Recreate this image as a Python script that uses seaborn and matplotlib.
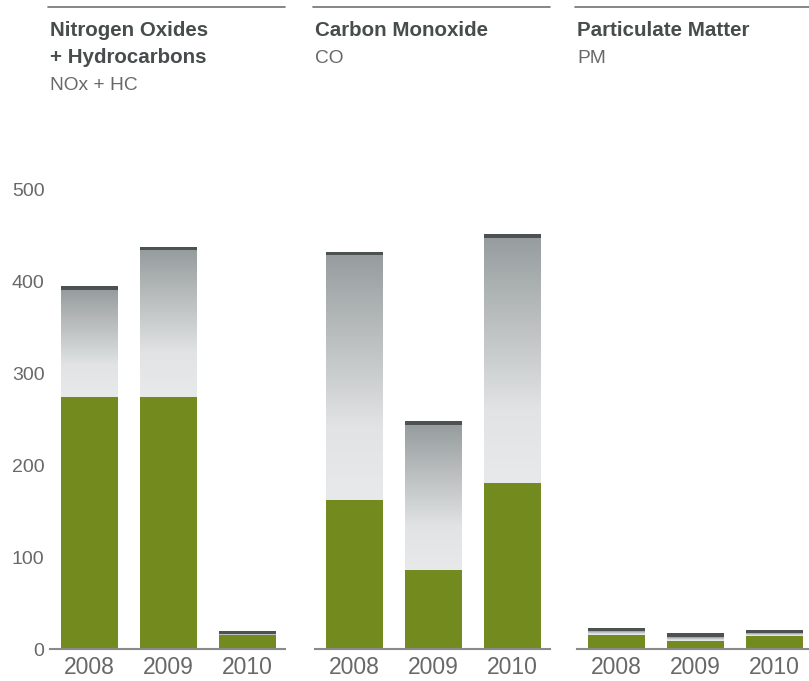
import matplotlib.pyplot as plt
import numpy as np
import pandas as pd
import seaborn as sns
from matplotlib.colors import LinearSegmentedColormap
from matplotlib.lines import Line2D

sns.set_theme(style="white")
plt.rcParams["font.family"] = ["Liberation Sans", "DejaVu Sans"]

# Data
years = ["2008", "2009", "2010"]
titles = ["Nitrogen Oxides\n+ Hydrocarbons", "Carbon Monoxide", "Particulate Matter"]
subtitles = ["NOx + HC", "CO", "PM"]
nox_actual = [274, 274, 15]
nox_limit = [395, 438, 20]
co_actual = [162, 86, 181]
co_limit = [433, 248, 452]
pm_actual = [15, 9, 14]
pm_limit = [23, 17, 21]
y_ticks = [0, 100, 200, 300, 400, 500]

actuals = [nox_actual, co_actual, pm_actual]
limits = [nox_limit, co_limit, pm_limit]

GREEN = "#738a1f"
CAP = "#4b5251"
TEXT = "#474c4c"
LIGHT_TEXT = "#686868"
CAP_H = 4.6
grad = LinearSegmentedColormap.from_list(
    "grey_grad", [(0, "#e8e9ea"), (0.3, "#e1e3e4"), (1, "#979d9e")]
)

W, H = 809, 681
fig = plt.figure(figsize=(W / 100, H / 100), dpi=100)

panel_left = [50, 315, 577]
panel_width = 235
bottom_px, top_px = 649, 190

for i in range(3):
    df = pd.DataFrame({
        "year": years,
        "actual": actuals[i],
        "limit": limits[i],
    })
    df["body"] = df["limit"] - CAP_H

    ax = fig.add_axes([
        panel_left[i] / W,
        1 - bottom_px / H,
        panel_width / W,
        (bottom_px - top_px) / H,
    ])

    # dark cap = full limit, gradient body below it, green actual value on top
    sns.barplot(data=df, x="year", y="limit", color=CAP, saturation=1,
                width=0.72, linewidth=0, ax=ax, zorder=2)
    n_cap = len(ax.patches)
    sns.barplot(data=df, x="year", y="body", color="#c8cbcc", saturation=1,
                width=0.72, linewidth=0, ax=ax, zorder=3)
    body_patches = ax.patches[n_cap:]
    gvals = np.linspace(0, 1, 256).reshape(-1, 1)
    for p, lo in zip(body_patches, df["actual"]):
        x0 = p.get_x()
        x1 = x0 + p.get_width()
        top = p.get_height()
        if top > lo:
            ax.imshow(gvals, cmap=grad, origin="lower", aspect="auto",
                      extent=[x0, x1, lo, top], zorder=4)
    sns.barplot(data=df, x="year", y="actual", color=GREEN, saturation=1,
                width=0.72, linewidth=0, ax=ax, zorder=6)

    ax.set_xlim(-0.5, 2.47)
    ax.set_ylim(0, 500)
    ax.set_xlabel("")
    ax.set_ylabel("")
    for s in ["top", "right", "left"]:
        ax.spines[s].set_visible(False)
    ax.spines["bottom"].set_color("#8a8a8a")
    ax.spines["bottom"].set_linewidth(1.5)
    ax.spines["bottom"].set_zorder(7)
    ax.tick_params(axis="x", length=0, pad=5, labelsize=16.5,
                   labelcolor=LIGHT_TEXT)
    if i == 0:
        ax.set_yticks(y_ticks)
        ax.tick_params(axis="y", length=0, pad=4, labelsize=14,
                       labelcolor=LIGHT_TEXT)
    else:
        ax.set_yticks([])

    # header: rule, bold title, subtitle
    x_l = (panel_left[i] - 2) / W
    x_r = min(panel_left[i] + panel_width, W) / W
    fig.add_artist(Line2D([x_l, x_r], [1 - 7 / H, 1 - 7 / H],
                          color="#6e7272", lw=1.2))
    lines = titles[i].split("\n")
    base = 36
    for k, line in enumerate(lines):
        fig.text(panel_left[i] / W, 1 - (base + 27 * k) / H, line,
                 fontsize=14.8, fontweight="bold", color=TEXT, va="baseline")
    fig.text(panel_left[i] / W, 1 - (base + 27 * len(lines)) / H, subtitles[i],
             fontsize=13.8, color=LIGHT_TEXT, va="baseline")

fig.savefig("out.png", dpi=100)
